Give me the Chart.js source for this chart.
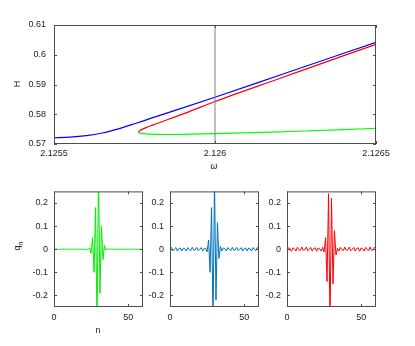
<!DOCTYPE html>
<html>
<head>
<meta charset="utf-8">
<script src="https://cdn.jsdelivr.net/npm/chart.js@4.4.1/dist/chart.umd.min.js"></script>
<style>
  html, body { margin: 0; padding: 0; background: #fff; }
  body { position: relative; width: 415px; height: 346px; overflow: hidden; }
  canvas { position: absolute; }
</style>
</head>
<body>
<canvas id="top" style="left:0px;top:0px" width="415" height="180"></canvas>
<canvas id="q1" style="left:0px;top:180px" width="147" height="166"></canvas>
<canvas id="q2" style="left:136px;top:180px" width="127" height="166"></canvas>
<canvas id="q3" style="left:253px;top:180px" width="127" height="166"></canvas>
<script>
/* top panel: H against omega */
const omegaTicks = [2.1255, 2.126, 2.1265];
const omegaLabels = ['2.1255', '2.126', '2.1265'];
const hTicks = [0.57, 0.58, 0.59, 0.60, 0.61];
const hLabels = ['0.57', '0.58', '0.59', '0.6', '0.61'];

const blueOmega = [2.12550, 2.12555, 2.12560, 2.12565, 2.12570, 2.12575, 2.12580, 2.12600, 2.12620, 2.12640, 2.12650];
const blueH     = [0.5721, 0.5723, 0.5728, 0.5737, 0.5751, 0.5768, 0.5786, 0.5857, 0.5931, 0.6005, 0.6042];

const redOmega = [2.125762, 2.125766, 2.125775, 2.125790, 2.125820, 2.125860, 2.125920, 2.126000, 2.126200, 2.126400, 2.126500];
const redH     = [0.5739, 0.5744, 0.5750, 0.5757, 0.5769, 0.5785, 0.5809, 0.5843, 0.5920, 0.5997, 0.6035];

const greenOmega = [2.125762, 2.125775, 2.125800, 2.125850, 2.126000, 2.126200, 2.126400, 2.126500];
const greenH     = [0.5739, 0.5735, 0.5733, 0.5732, 0.5735, 0.5741, 0.5748, 0.5753];

const markOmega = [2.126, 2.126];
const markH = [0.57, 0.61];

/* bottom panels: q_n against n */
const sites = [0, 1, 2, 3, 4, 5, 6, 7, 8, 9, 10, 11, 12, 13, 14, 15, 16, 17, 18, 19, 20,
  21, 22, 23, 24, 25, 26, 27, 28, 29, 30, 31, 32, 33, 34, 35, 36, 37, 38, 39, 40,
  41, 42, 43, 44, 45, 46, 47, 48, 49, 50, 51, 52, 53, 54, 55, 56, 57, 58, 59, 60];
const nTicks = [0, 50];
const nLabels = ['0', '50'];
const qTicks = [-0.2, -0.1, 0, 0.1, 0.2];
const qLabels = ['-0.2', '-0.1', '0', '0.1', '0.2'];

const qGreen = [0, 0, 0, 0, 0, 0, 0, 0, 0, 0, 0, 0, 0, 0, 0, 0, 0, 0, 0, 0, 0, 0, 0,
  -0.002, 0.006, -0.018, 0.05, -0.10, 0.18, -0.33, 0.34, -0.19, 0.10, -0.045, 0.016, -0.005, 0.001,
  0, 0, 0, 0, 0, 0, 0, 0, 0, 0, 0, 0, 0, 0, 0, 0, 0, 0, 0, 0, 0, 0, 0, 0];

const qBlue = [0.000, 0.008, -0.007, 0.001, 0.007, -0.008, 0.003, 0.005, -0.008, 0.005,
  0.002, -0.008, 0.007, -0.002, -0.006, 0.008, -0.004, -0.003, 0.008, -0.006,
  0.000, 0.007, -0.008, 0.003, 0.004,
  -0.012, 0.04, -0.10, 0.18, -0.32, 0.30, -0.22, 0.115, -0.04, 0.012,
  -0.008, 0.006, 0.002, -0.008, 0.007, -0.002, -0.006, 0.008, -0.004, -0.003,
  0.008, -0.006, 0.000, 0.007, -0.008, 0.003, 0.005, -0.008, 0.005, 0.002,
  -0.008, 0.007, -0.002, -0.006, 0.008, -0.010];

const qRed = [-0.004, 0.006, 0.003, -0.009, 0.006, 0.002, -0.008, 0.008, -0.002, -0.006,
  0.009, -0.005, -0.003, 0.009, -0.007, 0.000, 0.008, -0.008, 0.003, 0.006,
  -0.009, 0.005, 0.002, -0.008, 0.008,
  -0.012, 0.05, -0.14, 0.24, -0.32, 0.22, -0.15, 0.08, -0.025, 0.004,
  -0.008, 0.008, -0.002, -0.006, 0.009, -0.005, -0.003, 0.009, -0.007, 0.000,
  0.008, -0.008, 0.003, 0.006, -0.009, 0.005, 0.002, -0.008, 0.008, -0.002,
  -0.006, 0.009, -0.005, -0.003, 0.009, 0.002];

Chart.defaults.font.family = '"Liberation Sans", Arial, sans-serif';
Chart.defaults.font.size = 9;
Chart.defaults.color = '#222';

const pts = (xs, ys) => xs.map((x, i) => ({ x: x, y: ys[i] }));

// box round the plot area, inward ticks on all four sides, axis titles
const frame = {
  id: 'frame',
  afterDatasetsDraw(chart, args, opts) {
    const { ctx, chartArea: a, scales } = chart;
    ctx.save();
    ctx.strokeStyle = '#4d4d4d';
    ctx.lineWidth = 1;
    ctx.beginPath();
    scales.x.ticks.forEach(t => {
      const px = Math.round(scales.x.getPixelForValue(t.value)) + 0.5;
      ctx.moveTo(px, a.bottom); ctx.lineTo(px, a.bottom - 3);
      ctx.moveTo(px, a.top); ctx.lineTo(px, a.top + 3);
    });
    scales.y.ticks.forEach(t => {
      const py = Math.round(scales.y.getPixelForValue(t.value)) + 0.5;
      ctx.moveTo(a.left, py); ctx.lineTo(a.left + 3, py);
      ctx.moveTo(a.right, py); ctx.lineTo(a.right - 3, py);
    });
    ctx.stroke();
    ctx.strokeRect(a.left + 0.5, a.top + 0.5, a.right - a.left - 1, a.bottom - a.top - 1);
    ctx.restore();
  },
  afterDraw(chart, args, opts) {
    const ctx = chart.ctx;
    (opts.titles || []).forEach(t => {
      ctx.save();
      ctx.translate(t.x, t.y);
      if (t.rot) ctx.rotate(t.rot);
      ctx.fillStyle = '#222';
      ctx.textAlign = 'center';
      ctx.textBaseline = 'middle';
      ctx.font = (t.italic ? 'italic ' : '') + '9px "Liberation Sans", Arial, sans-serif';
      if (t.sub) {
        ctx.textAlign = 'left';
        const w = ctx.measureText(t.text).width;
        ctx.fillText(t.text, -w / 2 - 2, 0);
        ctx.font = '7px "Liberation Sans", Arial, sans-serif';
        ctx.fillText(t.sub, w / 2 - 2, 3);
      } else {
        ctx.fillText(t.text, 0, 0);
      }
      ctx.restore();
    });
  }
};

function fixedTicks(values) {
  return scale => { scale.ticks = values.map(v => ({ value: v })); };
}

const noGrid = { display: false, drawTicks: false, tickLength: 0 };

new Chart(document.getElementById('top'), {
  type: 'scatter',
  data: {
    datasets: [
      { data: pts(markOmega, markH), borderColor: '#808080', borderWidth: 1 },
      { data: pts(greenOmega, greenH), borderColor: '#00ff00', borderWidth: 1.2, cubicInterpolationMode: 'monotone' },
      { data: pts(redOmega, redH), borderColor: '#ff0000', borderWidth: 1.2, cubicInterpolationMode: 'monotone' },
      { data: pts(blueOmega, blueH), borderColor: '#0000ff', borderWidth: 1.2, cubicInterpolationMode: 'monotone' }
    ]
  },
  options: {
    responsive: false,
    animation: false,
    devicePixelRatio: 1,
    showLine: true,
    elements: { point: { radius: 0 } },
    layout: { padding: { top: 25, right: 39, left: 0, bottom: 0 } },
    scales: {
      x: {
        type: 'linear', min: 2.1255, max: 2.1265,
        grid: noGrid, border: { display: false },
        afterBuildTicks: fixedTicks(omegaTicks),
        afterFit: s => { s.height = 36; },
        ticks: { padding: 4, maxRotation: 0, callback: (v, i) => omegaLabels[i] }
      },
      y: {
        type: 'linear', min: 0.57, max: 0.61,
        grid: noGrid, border: { display: false },
        afterBuildTicks: fixedTicks(hTicks),
        afterFit: s => { s.width = 54; },
        ticks: { padding: 8, callback: (v, i) => hLabels[i] }
      }
    },
    plugins: {
      legend: { display: false },
      tooltip: { enabled: false },
      frame: {
        titles: [
          { text: 'H', x: 18, y: 84, rot: -Math.PI / 2 },
          { text: 'ω', x: 214, y: 166, italic: true }
        ]
      }
    }
  },
  plugins: [frame]
});

function qPanel(id, values, color, axisWidth, titles) {
  new Chart(document.getElementById(id), {
    type: 'scatter',
    data: { datasets: [{ data: pts(sites, values), borderColor: color, borderWidth: 1 }] },
    options: {
      responsive: false,
      animation: false,
      devicePixelRatio: 1,
      showLine: true,
      elements: { point: { radius: 0 } },
      layout: { padding: { top: 9, right: 4, left: 0, bottom: 0 } },
      scales: {
        x: {
          type: 'linear', min: 0, max: 60,
          grid: noGrid, border: { display: false },
          afterBuildTicks: fixedTicks(nTicks),
          afterFit: s => { s.height = 39; },
          ticks: { padding: 5, maxRotation: 0, callback: (v, i) => nLabels[i] }
        },
        y: {
          type: 'linear', min: -0.25, max: 0.25,
          grid: noGrid, border: { display: false },
          afterBuildTicks: fixedTicks(qTicks),
          afterFit: s => { s.width = axisWidth; },
          ticks: { padding: 6, callback: (v, i) => qLabels[i] }
        }
      },
      plugins: {
        legend: { display: false },
        tooltip: { enabled: false },
        frame: { titles: titles }
      }
    },
    plugins: [frame]
  });
}

qPanel('q1', qGreen, '#00ee00', 54, [
  { text: 'q', sub: 'n', x: 18, y: 66, rot: -Math.PI / 2 },
  { text: 'n', x: 98, y: 151 }
]);
qPanel('q2', qBlue, '#0072bd', 34, []);
qPanel('q3', qRed, '#ff0000', 34, []);
</script>
</body>
</html>
